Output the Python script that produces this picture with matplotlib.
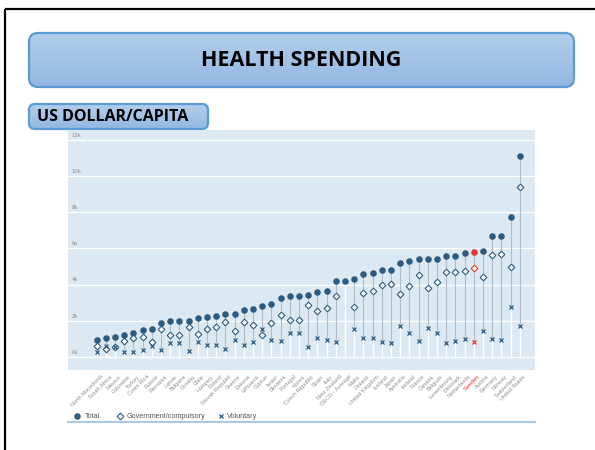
import numpy as np
import matplotlib
matplotlib.use("Agg")
import matplotlib.pyplot as plt
from matplotlib.patches import FancyBboxPatch

# data (USD per capita, thousands)
countries = ["North Macedonia", "South Africa", "Mexico", "Colombia", "Turkey", "Costa Rica",
             "Russia", "Romania", "Latvia", "Bulgaria", "Croatia", "Chile", "Hungary", "Poland",
             "Slovak Republic", "Greece", "Estonia", "Lithuania", "Cyprus", "Israel", "Slovenia",
             "Portugal", "Korea", "Czech Republic", "Spain", "Italy", "New Zealand",
             "OECD - Average", "Malta", "Finland", "United Kingdom", "Iceland", "Japan",
             "Australia", "Ireland", "France", "Canada", "Belgium", "Luxembourg", "Denmark",
             "Netherlands", "Sweden", "Austria", "Germany", "Norway", "Switzerland",
             "United States"]
total = [0.93, 1.06, 1.13, 1.20, 1.33, 1.48, 1.54, 1.89, 1.98, 1.98, 2.00, 2.15, 2.20, 2.28,
         2.35, 2.37, 2.57, 2.63, 2.80, 2.93, 3.24, 3.39, 3.39, 3.43, 3.61, 3.65, 4.20, 4.22,
         4.33, 4.59, 4.67, 4.81, 4.81, 5.20, 5.30, 5.39, 5.43, 5.43, 5.56, 5.56, 5.76, 5.80,
         5.85, 6.67, 6.67, 7.74, 11.10]
government = [0.63, 0.44, 0.57, 0.89, 1.04, 1.09, 0.85, 1.52, 1.19, 1.20, 1.67, 1.28, 1.54,
              1.65, 1.91, 1.41, 1.91, 1.76, 1.24, 1.89, 2.30, 2.07, 2.07, 2.85, 2.54, 2.70,
              3.35, np.nan, 2.78, 3.54, 3.63, 4.00, 4.06, 3.50, 3.91, 4.52, 3.81, 4.13, 4.72,
              4.69, 4.78, 4.94, 4.41, 5.65, 5.69, 5.00, 9.41]
voluntary = [0.30, 0.59, 0.55, 0.30, 0.28, 0.37, 0.63, 0.37, 0.76, 0.76, 0.31, 0.85, 0.65,
             0.65, 0.43, 0.96, 0.65, 0.85, 1.52, 0.96, 0.91, 1.31, 1.31, 0.57, 1.06, 0.94,
             0.85, np.nan, 1.56, 1.04, 1.04, 0.81, 0.76, 1.70, 1.35, 0.87, 1.61, 1.30, 0.78,
             0.89, 0.98, 0.85, 1.44, 0.98, 0.96, 2.74, 1.70]
highlight = "Sweden"
yticks = [0, 2, 4, 6, 8, 10, 12]

W, H = 595, 450
blue = "#2d5b7f"
red = "#e8352d"
grey_txt = "#8f8f8f"

fig = plt.figure(figsize=(W / 100, H / 100), dpi=100)
fig.patch.set_facecolor("white")

# slide layer in pixel coordinates
bg = fig.add_axes([0, 0, 1, 1])
bg.set_xlim(0, W)
bg.set_ylim(H, 0)
bg.axis("off")

# black frame (left and top)
bg.plot([5, 5], [H + 5, 9], color="black", lw=1.6, solid_capstyle="butt")
bg.plot([5, W + 5], [9, 9], color="black", lw=1.6, solid_capstyle="butt")

grad = np.linspace(0, 1, 100).reshape(-1, 1)
cmap = matplotlib.colors.LinearSegmentedColormap.from_list("g", ["#b3cdeb", "#93b8e2"])


def slide_box(x0, y0, x1, y1, rad):
    box = FancyBboxPatch((x0, y0), x1 - x0, y1 - y0,
                         boxstyle="round,pad=0,rounding_size=%d" % rad,
                         facecolor="none", edgecolor="#5b9bd5", lw=1.6, zorder=3)
    bg.add_patch(box)
    im = bg.imshow(grad, cmap=cmap, extent=(x0, x1, y1, y0), aspect="auto", zorder=2)
    im.set_clip_path(box)  # gradient fill inside the rounded box


slide_box(29, 33, 574, 87, 9)
bg.text(301, 61, "HEALTH SPENDING", ha="center", va="center", fontsize=15.5,
        fontweight="bold", family="Open Sans", color="black", zorder=4)
slide_box(29, 104, 208, 129, 6)
bg.text(37, 117, "US DOLLAR/CAPITA", ha="left", va="center", fontsize=11.5,
        fontweight="bold", family="Open Sans", color="black", zorder=4)

# bottom blue line under legend
bg.plot([68, 535], [422, 422], color="#a9c9e6", lw=1.5)

# chart
ax = fig.add_axes([68 / W, 1 - 370 / H, (535 - 68) / W, (370 - 130) / H], zorder=1)
ax.set_facecolor("#dde9f2")
ax.set_xlim(-3.12, 47.66)
ax.set_ylim(-0.72, 12.55)
for s in ax.spines.values():
    s.set_visible(False)
ax.set_xticks([])
ax.set_yticks([])

for v in yticks:
    ax.axhline(v, color="white", lw=0.9, zorder=1)
    ax.text(-2.7, v + 0.12, "%dk" % v, fontsize=4.3, color=grey_txt, ha="left", va="bottom",
            family="Liberation Sans")

for i, name in enumerate(countries):
    vals = [v for v in (total[i], government[i], voluntary[i]) if not np.isnan(v)]
    lo, hi = min(vals), max(vals)
    ax.plot([i, i], [0, lo], color="white", lw=1.0, zorder=2)
    ax.plot([i, i], [lo, hi], color="#b3bcc6", lw=0.8, zorder=2)
    c = red if name == highlight else blue
    ax.plot(i, total[i], "o", ms=3.7, color=c, mec=c, zorder=4)
    if not np.isnan(government[i]):
        ax.plot(i, government[i], "D", ms=3.4, mfc="white", mec=c, mew=0.8, zorder=4)
    if not np.isnan(voluntary[i]):
        ax.plot(i, voluntary[i], "x", ms=2.7, color=c, mew=0.9, zorder=4)
    ax.text(i + 0.4, -0.95, name, rotation=45, rotation_mode="anchor", ha="right", va="top",
            fontsize=4.1, color=red if name == highlight else grey_txt,
            family="Liberation Sans", clip_on=False)

# legend
bg.plot(76.7, 416, "o", ms=3.7, color=blue)
bg.text(85, 416, "Total", fontsize=5.2, color="#555555", va="center", family="Liberation Sans")
bg.plot(120, 416, "D", ms=3.4, mfc="white", mec=blue, mew=0.8)
bg.text(127, 416, "Government/compulsory", fontsize=5.2, color="#555555", va="center",
        family="Liberation Sans")
bg.plot(221, 416, "x", ms=2.7, color=blue, mew=0.9)
bg.text(227, 416, "Voluntary", fontsize=5.2, color="#555555", va="center",
        family="Liberation Sans")

fig.savefig("out.png", dpi=100)
